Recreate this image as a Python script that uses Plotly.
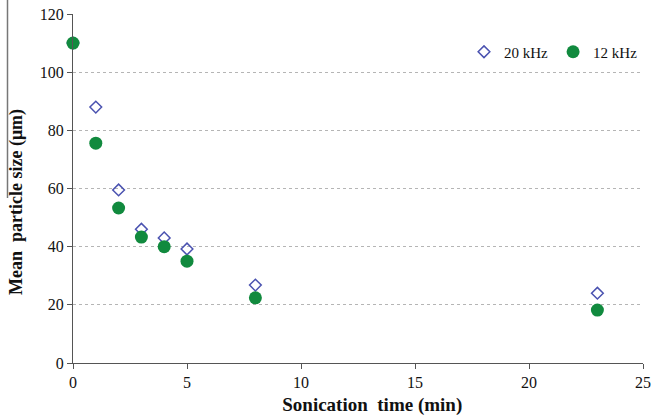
import plotly.graph_objects as go

time_min = [0, 1, 2, 3, 4, 5, 8, 23]
size_20khz = [110, 88, 59.5, 46, 43, 39.2, 26.8, 24]
size_12khz = [110, 75.6, 53.3, 43.3, 40, 35, 22.4, 18.2]

FONT = "Liberation Serif, Times New Roman, serif"
NB = "\u00a0"

W, H = 653, 420
L, T, R, B = 73, 14, 10, 57
PW, PH = W - L - R, H - T - B


def px(x):
    return (x - L) / PW


def py(y):
    return (T + PH - y) / PH


fig = go.Figure()
fig.add_trace(go.Scatter(
    x=time_min, y=size_20khz, mode="markers", name="20 kHz", cliponaxis=False,
    marker=dict(symbol="diamond-open", size=9, color="#4a52b0", line=dict(width=1.5, color="#4a52b0")),
))
fig.add_trace(go.Scatter(
    x=time_min, y=size_12khz, mode="markers", name="12 kHz", cliponaxis=False,
    marker=dict(symbol="circle", size=13, color="#118a3e", line=dict(width=0)),
))

fig.update_layout(
    width=W, height=H,
    margin=dict(l=L, r=R, t=T, b=B),
    paper_bgcolor="white", plot_bgcolor="white",
    font=dict(family=FONT, size=16, color="#111"),
    showlegend=True,
    legend=dict(orientation="h", x=1.0, y=py(52), xanchor="right", yanchor="middle",
                bgcolor="rgba(0,0,0,0)", font=dict(family=FONT, size=15, color="#111"),
                itemwidth=30, tracegroupgap=0),
    xaxis=dict(range=[0, 25], tickvals=[0, 5, 10, 15, 20, 25], showgrid=False, automargin=False,
               ticklabeloverflow="allow",
               showline=True, linecolor="#555", linewidth=1, ticks="outside", ticklen=5,
               tickcolor="#555", zeroline=False,
               title=dict(text="<b>" + NB * 6 + "Sonication  time (min)</b>",
                          font=dict(family=FONT, size=19), standoff=7)),
    yaxis=dict(range=[0, 120], tickvals=[0, 20, 40, 60, 80, 100, 120], showgrid=True, automargin=False,
               ticklabeloverflow="allow",
               gridcolor="#b5b5b5", griddash="dot", gridwidth=1,
               showline=True, linecolor="#555", linewidth=1, ticks="outside", ticklen=5,
               tickcolor="#555", zeroline=False,
               title=dict(text="<b>Mean  particle size (μm)" + NB * 6 + "</b>",
                          font=dict(family=FONT, size=18), standoff=12)),
    shapes=[
        dict(type="rect", xref="paper", yref="paper", x0=px(490), x1=1.02,
             y0=py(82), y1=py(30), fillcolor="white", line=dict(width=0), layer="between"),
        dict(type="line", xref="paper", yref="paper", x0=px(7.5), x1=px(7.5),
             y0=py(198), y1=py(0), line=dict(color="#777", width=1.5)),
    ],
)

fig.write_html("out.html", config={"displayModeBar": False},
               post_script="document.body.style.margin='0';")
